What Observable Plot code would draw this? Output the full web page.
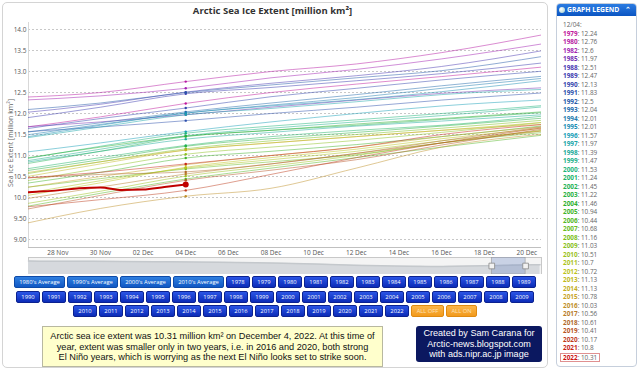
<!DOCTYPE html>
<html><head><meta charset="utf-8">
<script src="https://cdn.jsdelivr.net/npm/d3@7"></script>
<script src="https://cdn.jsdelivr.net/npm/@observablehq/plot@0.6"></script>
<style>
html,body{margin:0;padding:0;background:#fff;}
body{width:640px;height:370px;position:relative;overflow:hidden;font-family:"Open Sans",sans-serif;}
#frame{position:absolute;left:2px;top:2px;width:546px;height:366px;border:1px solid #d4d4d4;border-radius:5px;box-sizing:border-box;}
#chart{position:absolute;left:0;top:0;}
#nav{position:absolute;left:0;top:257px;}
#title{position:absolute;left:0;width:545px;top:4px;text-align:center;font-weight:bold;font-size:9.5px;color:#333;}
#ylabel{position:absolute;left:10px;top:143px;transform:translate(-50%,-50%) rotate(-90deg);white-space:nowrap;font-size:7px;color:#666;}
.row{position:absolute;left:0;width:550px;display:flex;justify-content:center;gap:2px;}
.btn{box-sizing:border-box;height:12px;width:24px;border:1px solid #0b2290;border-radius:2px;background:linear-gradient(#2a55e6,#0c2cb8);color:#fff;font-size:5.8px;line-height:10px;text-align:center;font-family:"Open Sans",sans-serif;}
.avg{width:51px;background:linear-gradient(#2f7fe0,#1058c4);border-color:#0d4aa8;}
.orange{background:linear-gradient(#fbb64a,#f29a1c);border-color:#e08a10;color:#fde2b8;}
#caption{position:absolute;left:42px;top:326px;width:341px;height:41px;box-sizing:border-box;background:#ffffcc;border:1px solid #b8b8a0;font-family:"Liberation Sans",Arial,sans-serif;font-size:9.2px;line-height:10.5px;text-align:center;color:#111;padding-top:4px;}
#credit{position:absolute;left:416px;top:326px;width:126px;height:36px;box-sizing:border-box;background:#0b1860;border-radius:3px;color:#fff;font-family:"Liberation Sans",Arial,sans-serif;font-size:9.1px;line-height:10.5px;text-align:center;padding-top:2px;}
#legend{position:absolute;left:556px;top:3px;width:81px;height:364px;border:1px solid #c6cfdc;border-radius:4px;box-sizing:border-box;overflow:hidden;}
#lhead{height:12px;background:linear-gradient(#2b7ce2,#0b55c2);color:#fff;font-weight:bold;font-size:6.8px;line-height:12px;position:relative;padding-left:10px;}
#lhead .dot{position:absolute;left:2px;top:3px;width:6px;height:6px;border-radius:50%;background:radial-gradient(circle at 35% 35%,#fff,#9cc);}
#lhead .chev{position:absolute;right:5px;top:0;font-size:7px;}
#litems{padding:5px 0 0 6px;font-size:6.4px;line-height:8.5px;color:#666;}
#litems .y{font-weight:bold;}
#litems .box{display:inline-block;border:1px solid #e09090;padding:0 2px;margin-left:-3px;line-height:7.5px;}
</style></head>
<body>
<div id="frame"></div>
<div id="chart"></div>
<div id="nav"></div>
<div id="title">Arctic Sea Ice Extent [million km²]</div>
<div id="ylabel">Sea Ice Extent [million km²]</div>
<div id="buttons"></div>
<div id="caption">Arctic sea ice extent was 10.31 million km² on December 4, 2022. At this time of<br>year, extent was smaller only in two years, i.e. in 2016 and 2020, both strong<br>El Niño years, which is worrying as the next El Niño looks set to strike soon.</div>
<div id="credit">Created by Sam Carana for<br>Arctic-news.blogspot.com<br>with ads.nipr.ac.jp image</div>
<div id="legend"><div id="lhead"><span class="dot"></span>GRAPH LEGEND<span class="chev">&#8963;</span></div><div id="litems"></div></div>
<script>
// ---------- data ----------
const legendDate = "12/04:";
const markDate = "2022-12-04";
const legendYears = [1979,1980,1982,1985,1988,1989,1990,1991,1992,1993,1994,1995,1996,1997,1998,1999,2000,2001,2002,2003,2004,2005,2006,2007,2008,2009,2010,2011,2012,2013,2014,2015,2016,2017,2018,2019,2020,2021,2022];
const legendValues = [12.24,12.76,12.6,11.97,12.51,12.47,12.13,11.83,12.5,12.04,12.01,12.01,11.57,11.97,11.39,11.47,11.53,11.24,11.45,11.22,11.46,10.94,10.44,10.68,11.16,11.03,10.51,10.7,10.72,11.13,11.13,10.78,10.03,10.56,10.61,10.41,10.17,10.8,10.31];

// other dates of each past year's line (Dec 4 value comes from legendValues)
const seriesDates = ["2022-11-26","2022-11-30","2022-12-08","2022-12-12","2022-12-16","2022-12-21"];
const pastYears = [1979,1980,1982,1985,1988,1989,1990,1991,1992,1993,1994,1995,1996,1997,1998,1999,2000,2001,2002,2003,2004,2005,2006,2007,2008,2009,2010,2011,2012,2013,2014,2015,2016,2017,2018,2019,2020,2021];
const pastSeries = [
  [11.64,11.92,12.50,12.70,12.88,13.12],
  [12.38,12.50,13.00,13.18,13.45,13.90],
  [12.31,12.42,12.85,13.05,13.30,13.68],
  [11.67,11.80,12.15,12.32,12.48,12.62],
  [12.00,12.22,12.72,12.90,13.12,13.52],
  [11.86,12.15,12.62,12.78,12.95,13.22],
  [11.60,11.88,12.40,12.60,12.80,13.02],
  [11.55,11.68,12.00,12.15,12.32,12.50],
  [12.07,12.25,12.68,12.85,13.02,13.38],
  [11.52,11.78,12.25,12.45,12.66,12.90],
  [11.45,11.74,12.20,12.38,12.60,12.85],
  [11.40,11.72,12.18,12.33,12.52,12.80],
  [11.05,11.30,11.80,12.00,12.18,12.33],
  [11.38,11.68,12.12,12.28,12.45,12.58],
  [10.80,11.10,11.55,11.70,11.82,11.98],
  [10.83,11.15,11.65,11.80,11.95,12.17],
  [10.88,11.22,11.70,11.85,12.00,12.20],
  [10.64,10.95,11.45,11.60,11.72,11.95],
  [10.76,11.10,11.60,11.72,11.86,12.03],
  [10.60,10.90,11.40,11.55,11.70,11.90],
  [10.90,11.20,11.60,11.75,11.88,12.05],
  [10.30,10.60,11.10,11.26,11.45,11.72],
  [9.74,10.10,10.70,10.95,11.20,11.50],
  [10.21,10.45,10.85,11.02,11.30,11.56],
  [10.52,10.85,11.35,11.50,11.65,11.85],
  [10.35,10.70,11.20,11.36,11.55,11.80],
  [9.81,10.15,10.75,11.00,11.30,11.62],
  [10.05,10.40,10.90,11.10,11.35,11.60],
  [10.00,10.35,10.95,11.15,11.40,11.66],
  [10.45,10.80,11.30,11.45,11.60,11.80],
  [10.55,10.85,11.30,11.45,11.60,11.75],
  [10.20,10.50,11.00,11.20,11.45,11.70],
  [9.33,9.74,10.22,10.70,11.20,11.52],
  [9.93,10.25,10.80,11.05,11.30,11.60],
  [10.45,10.55,10.80,11.05,11.35,11.70],
  [9.67,10.05,10.65,10.90,11.25,11.65],
  [9.75,9.95,10.55,10.95,11.30,11.68],
  [10.45,10.60,11.00,11.20,11.50,11.75]
];

// 2022 daily values
const dates2022 = ["2022-11-26","2022-11-27","2022-11-28","2022-11-29","2022-11-30","2022-12-01","2022-12-02","2022-12-03","2022-12-04"];
const values2022 = [10.11,10.14,10.17,10.22,10.24,10.18,10.19,10.25,10.31];

// axes
const xDomainDates = ["2022-11-26T15:00Z","2022-12-20T16:30Z"];
const yDomain = [8.81, 14.167];
const yTicks = [9.0,9.5,10.0,10.5,11.0,11.5,12.0,12.5,13.0,13.5,14.0];
const xTickDates = ["2022-11-28","2022-11-30","2022-12-02","2022-12-04","2022-12-06","2022-12-08","2022-12-10","2022-12-12","2022-12-14","2022-12-16","2022-12-18","2022-12-20"];

// navigator series (whole year silhouette)
const navDates = ["2022-01-01","2022-02-15","2022-04-01","2022-05-15","2022-07-01","2022-08-15","2022-10-01","2022-11-01","2022-12-01","2022-12-31"];
const navValues = [12.6,12.5,12.0,11.6,10.6,9.0,7.4,7.6,8.6,9.2];
const navDomainDates = ["2022-01-01","2023-01-01"];

// buttons
const averageLabels = ["1980's Average","1990's Average","2000's Average","2010's Average"];
const buttonRows = [
  [1978,1979,1980,1981,1982,1983,1984,1985,1986,1987,1988,1989],
  [1990,1991,1992,1993,1994,1995,1996,1997,1998,1999,2000,2001,2002,2003,2004,2005,2006,2007,2008,2009],
  [2010,2011,2012,2013,2014,2015,2016,2017,2018,2019,2020,2021,2022]
];
const toggleLabels = ["ALL OFF","ALL ON"];

// ---------- styles ----------
const colorDomain = [1979,1982,1985,1989,1992,1996,2000,2004,2008,2012,2015,2018,2022];
const colorRange = ["#c0179c","#a21fb2","#7430b2","#3c3cb0","#2458a8","#18a0b8","#1cb47a","#2eb030","#7cc020","#bcc41c","#c8a42a","#b06a2c","#cc1010"];
const yearColor = d3.scaleLinear().domain(colorDomain).range(colorRange).interpolate(d3.interpolateRgb);

// ---------- build ----------
const parse = s => new Date(s);
const lineRows = [];
pastYears.forEach((yr, i) => {
  const pts = seriesDates.map((d, j) => ({year: yr, date: parse(d), value: pastSeries[i][j]}));
  pts.push({year: yr, date: parse(markDate), value: legendValues[legendYears.indexOf(yr)]});
  pts.sort((a, b) => a.date - b.date);
  lineRows.push(...pts);
});
const rows2022 = dates2022.map((d, i) => ({year: 2022, date: parse(d), value: values2022[i]}));
const markRows = legendYears.map((yr, i) => ({year: yr, date: parse(markDate), value: legendValues[i]}));
const xDomain = xDomainDates.map(parse);

const fmtY = v => v >= 10 ? v.toFixed(1) : v.toFixed(2);
const fmtX = d3.utcFormat("%d %b");

const chart = Plot.plot({
  width: 545, height: 262,
  marginLeft: 28, marginRight: 4, marginTop: 22, marginBottom: 15,
  style: {fontFamily: "'Open Sans', sans-serif", fontSize: "6.5px", color: "#555", background: "transparent", overflow: "visible"},
  x: {type: "utc", domain: xDomain},
  y: {domain: yDomain},
  color: {type: "identity"},
  marks: [
    Plot.gridY(yTicks, {stroke: "#c8c8c8", strokeOpacity: 1, strokeDasharray: "2,2"}),
    Plot.ruleX([xDomain[0]], {stroke: "#d8d8d8"}),
    Plot.ruleY([yDomain[0]], {stroke: "#c0c0c0"}),
    Plot.axisY(yTicks, {tickSize: 0, tickPadding: 2, tickFormat: fmtY, label: null, fill: "#555"}),
    Plot.axisX(xTickDates.map(parse), {tickSize: 0, tickPadding: 3, tickFormat: fmtX, label: null, fill: "#555"}),
    Plot.line(lineRows, {x: "date", y: "value", z: "year", stroke: d => yearColor(d.year), strokeOpacity: 0.5, strokeWidth: 1, curve: "monotone-x", clip: true}),
    Plot.line(rows2022, {x: "date", y: "value", stroke: "#c00000", strokeWidth: 2, curve: "monotone-x", clip: true}),
    Plot.dot(markRows, {x: "date", y: "value", fill: d => yearColor(d.year), r: 1.2}),
    Plot.dot(markRows.filter(d => d.year === 2022), {x: "date", y: "value", fill: "#c00000", r: 3})
  ]
});
document.getElementById("chart").append(chart);

// navigator
const navRows = navDates.map((d, i) => ({date: parse(d), value: navValues[i]}));
const nav = Plot.plot({
  width: 545, height: 17,
  marginLeft: 28, marginRight: 4, marginTop: 0, marginBottom: 0,
  style: {background: "transparent"},
  x: {type: "utc", domain: navDomainDates.map(parse), axis: null},
  y: {domain: [0, 16], axis: null},
  marks: [
    Plot.frame({fill: "#f4f4f4", stroke: "#c8c8c8"}),
    Plot.areaY(navRows, {x: "date", y: "value", fill: "#d6d9dd", curve: "basis"}),
    Plot.lineY(navRows, {x: "date", y: "value", stroke: "#c4c8cc", curve: "basis"}),
    Plot.rect([{x1: xDomain[0], x2: xDomain[1]}], {x1: "x1", x2: "x2", fill: "#6685c2", fillOpacity: 0.3, stroke: "#999", strokeWidth: 0.6}),
    Plot.dot(xDomain, {x: d => d, frameAnchor: "middle", symbol: "square", r: 3.2, fill: "#f2f2f2", stroke: "#888", strokeWidth: 0.8})
  ]
});
document.getElementById("nav").append(nav);

// buttons
const btnWrap = document.getElementById("buttons");
const rowTops = [276, 291, 305];
const mk = (txt, cls) => { const b = document.createElement("div"); b.className = "btn " + (cls || ""); b.textContent = txt; return b; };
buttonRows.forEach((yrs, r) => {
  const row = document.createElement("div");
  row.className = "row"; row.style.top = rowTops[r] + "px";
  if (r === 0) averageLabels.forEach(t => row.append(mk(t, "avg")));
  yrs.forEach(y => row.append(mk(String(y))));
  if (r === 2) toggleLabels.forEach((t, i) => { const b = mk(t, "orange"); b.style.width = (i === 0 ? 33 : 31) + "px"; row.append(b); });
  btnWrap.append(row);
});

// legend
const li = document.getElementById("litems");
const head = document.createElement("div"); head.textContent = legendDate; li.append(head);
legendYears.forEach((yr, i) => {
  const d = document.createElement("div");
  const inner = `<span class="y" style="color:${yearColor(yr)}">${yr}</span>: ${legendValues[i]}`;
  d.innerHTML = yr === 2022 ? `<span class="box">${inner}</span>` : inner;
  li.append(d);
});
</script>
</body></html>
